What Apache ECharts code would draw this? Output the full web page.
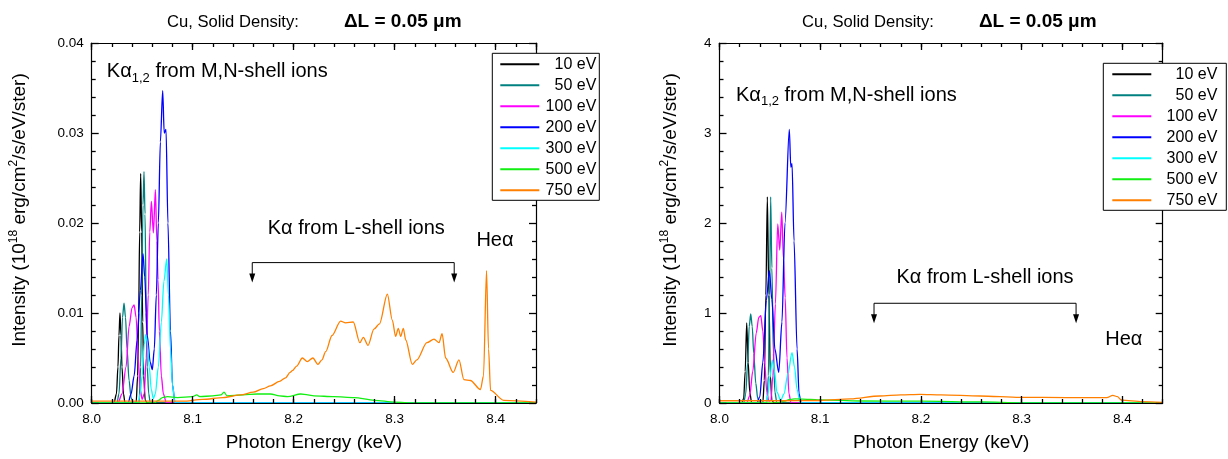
<!DOCTYPE html>
<html>
<head>
<meta charset="utf-8">
<script src="https://cdn.jsdelivr.net/npm/echarts@6/dist/echarts.min.js"></script>
<style>
  html, body { margin: 0; padding: 0; background: #fff; }
  #chart { width: 1228px; height: 459px; }
</style>
</head>
<body>
<div id="chart"></div>
<script>
// ---- Spectra: [photon energy (keV), intensity] ----
const seriesNames = ['10 eV', '50 eV', '100 eV', '200 eV', '300 eV', '500 eV', '750 eV'];

// Left panel (intensity scale 0 - 0.04)
const panelA_10eV = [[8.000,0],[8.022,0],[8.0245,0.001],[8.026,0.004],[8.027,0.0075],[8.028,0.0100],[8.029,0.0075],[8.030,0.004],[8.0315,0.001],[8.033,0],[8.044,0],[8.0455,0.003],[8.0465,0.010],[8.0475,0.019],[8.0485,0.0255],[8.0495,0.019],[8.0505,0.009],[8.0515,0.003],[8.053,0.0003],[8.055,0],[8.440,0]];
const panelA_50eV = [[8.000,0],[8.025,0],[8.027,0.001],[8.029,0.005],[8.0305,0.0095],[8.032,0.0111],[8.0335,0.0095],[8.035,0.006],[8.037,0.0025],[8.039,0.0006],[8.041,0.0001],[8.047,0],[8.0485,0.004],[8.0495,0.012],[8.0508,0.022],[8.0518,0.0257],[8.0528,0.021],[8.054,0.010],[8.055,0.004],[8.0565,0.001],[8.058,0],[8.440,0]];
const panelA_100eV = [[8.000,0],[8.026,0],[8.030,0.001],[8.034,0.004],[8.037,0.0085],[8.040,0.0106],[8.042,0.0109],[8.044,0.0095],[8.046,0.005],[8.048,0.0015],[8.050,0.0004],[8.052,0.001],[8.054,0.005],[8.056,0.012],[8.0575,0.019],[8.0591,0.0224],[8.0611,0.0189],[8.0631,0.0237],[8.0645,0.018],[8.0657,0.0137],[8.067,0.008],[8.069,0.003],[8.071,0.001],[8.074,0],[8.440,0]];
const panelA_200eV = [[8.000,0],[8.036,0],[8.039,0.001],[8.042,0.003],[8.045,0.007],[8.0482,0.0125],[8.0508,0.0166],[8.0525,0.014],[8.055,0.0075],[8.058,0.0045],[8.060,0.0037],[8.062,0.006],[8.064,0.012],[8.066,0.020],[8.068,0.029],[8.0703,0.0347],[8.0718,0.030],[8.0736,0.0304],[8.0755,0.020],[8.078,0.008],[8.080,0.002],[8.0825,0],[8.440,0]];
const panelA_300eV = [[8.000,0],[8.046,0],[8.048,0.001],[8.050,0.003],[8.052,0.0065],[8.0535,0.0076],[8.055,0.0068],[8.057,0.004],[8.059,0.0015],[8.061,0.0005],[8.063,0.001],[8.066,0.004],[8.069,0.009],[8.0715,0.0135],[8.0743,0.0160],[8.076,0.012],[8.078,0.006],[8.080,0.002],[8.0825,0],[8.440,0]];
const panelA_500eV = [[8.000,0],[8.062,0],[8.066,0.0003],[8.070,0.0006],[8.075,0.0007],[8.085,0.0006],[8.100,0.0007],[8.104,0.0009],[8.107,0.0007],[8.120,0.0008],[8.128,0.0009],[8.131,0.0012],[8.134,0.0008],[8.150,0.0009],[8.164,0.0010],[8.177,0.0010],[8.186,0.0008],[8.194,0.0007],[8.207,0.0010],[8.214,0.0009],[8.220,0.0008],[8.240,0.0007],[8.260,0.0006],[8.280,0.0003],[8.300,0.0001],[8.320,0],[8.440,0]];
const panelA_750eV = [[8.000,0.0002],[8.060,0.0002],[8.090,0.0002],[8.110,0.0004],[8.130,0.0006],[8.1475,0.0009],[8.160,0.0012],[8.170,0.0016],[8.177,0.0019],[8.186,0.0024],[8.192,0.0028],[8.1965,0.0034],[8.1987,0.0036],[8.203,0.0041],[8.2086,0.0050],[8.2135,0.0046],[8.219,0.0050],[8.224,0.0043],[8.228,0.0048],[8.2317,0.0057],[8.238,0.0075],[8.2465,0.0091],[8.2515,0.0089],[8.259,0.0090],[8.2656,0.0067],[8.269,0.0073],[8.2736,0.0064],[8.2795,0.0082],[8.285,0.0088],[8.2928,0.0121],[8.2977,0.0092],[8.301,0.0074],[8.3036,0.0083],[8.306,0.0074],[8.3086,0.0083],[8.311,0.0070],[8.3175,0.0043],[8.322,0.0048],[8.332,0.0067],[8.339,0.0071],[8.344,0.0067],[8.347,0.0077],[8.3505,0.0050],[8.358,0.0034],[8.3637,0.0048],[8.3686,0.0026],[8.375,0.0025],[8.385,0.0015],[8.388,0.0030],[8.391,0.0147],[8.393,0.0060],[8.395,0.0014],[8.408,0.0003],[8.440,0.0001]];

// Right panel (intensity scale 0 - 4)
const panelB_10eV = [[8.000,0],[8.022,0],[8.024,0.05],[8.0255,0.35],[8.027,0.89],[8.0285,0.45],[8.030,0.12],[8.032,0],[8.043,0],[8.0445,0.25],[8.046,1.2],[8.0475,2.29],[8.049,1.2],[8.0505,0.3],[8.052,0.03],[8.054,0],[8.440,0]];
const panelB_50eV = [[8.000,0],[8.024,0],[8.026,0.1],[8.028,0.45],[8.0295,0.85],[8.031,0.99],[8.0325,0.85],[8.034,0.55],[8.036,0.22],[8.038,0.05],[8.040,0],[8.047,0],[8.0485,0.3],[8.0497,1.2],[8.0508,2.29],[8.052,1.5],[8.0535,0.55],[8.055,0.12],[8.057,0],[8.440,0]];
const panelB_100eV = [[8.000,0],[8.027,0],[8.030,0.08],[8.033,0.35],[8.0365,0.78],[8.039,0.95],[8.041,0.97],[8.043,0.80],[8.045,0.42],[8.047,0.12],[8.049,0.02],[8.051,0.03],[8.053,0.3],[8.0555,1.1],[8.0578,1.99],[8.0598,1.70],[8.0618,2.12],[8.0635,1.6],[8.0652,1.17],[8.067,0.5],[8.069,0.1],[8.071,0],[8.440,0]];
const panelB_200eV = [[8.000,0],[8.037,0],[8.040,0.07],[8.043,0.45],[8.0465,1.14],[8.0495,1.47],[8.052,1.15],[8.055,0.6],[8.0588,0.34],[8.062,0.9],[8.065,2.0],[8.0693,3.04],[8.0708,2.62],[8.072,2.66],[8.074,1.8],[8.077,0.6],[8.079,0.1],[8.081,0],[8.440,0]];
const panelB_300eV = [[8.000,0],[8.046,0],[8.048,0.08],[8.050,0.28],[8.0524,0.48],[8.0545,0.36],[8.057,0.12],[8.0608,0.03],[8.064,0.1],[8.068,0.33],[8.072,0.56],[8.0745,0.4],[8.077,0.15],[8.080,0.01],[8.082,0],[8.440,0]];
const panelB_500eV = [[8.000,0],[8.058,0],[8.064,0.02],[8.070,0.04],[8.075,0.045],[8.090,0.04],[8.100,0.035],[8.140,0.022],[8.200,0.02],[8.260,0.012],[8.300,0.002],[8.320,0],[8.440,0]];
const panelB_750eV = [[8.000,0.025],[8.060,0.025],[8.100,0.028],[8.130,0.045],[8.159,0.078],[8.180,0.09],[8.199,0.096],[8.220,0.09],[8.2587,0.078],[8.2985,0.063],[8.345,0.06],[8.3845,0.06],[8.3905,0.085],[8.395,0.07],[8.399,0.033],[8.420,0.015],[8.440,0.007]];

const panelA = [panelA_10eV, panelA_50eV, panelA_100eV, panelA_200eV, panelA_300eV, panelA_500eV, panelA_750eV];
const panelB = [panelB_10eV, panelB_50eV, panelB_100eV, panelB_200eV, panelB_300eV, panelB_500eV, panelB_750eV];

// Axis ranges
const energyRange = [8.0, 8.44];
const intensityRangeA = [0, 0.04];
const intensityRangeB = [0, 4];

// ---- Styling ----
const FONT = '"Liberation Sans", Arial, Helvetica, sans-serif';
const colors = ['#000000', '#008080', '#ff00ff', '#0000ff', '#00ffff', '#11ee11', '#ff8000'];
const BLACK = '#000';
const TICK = { color: BLACK, width: 1.3 };

const grids = [
  { left: 91.7, top: 43, width: 444.3, height: 360 },
  { left: 719.5, top: 43, width: 443.2, height: 360 }
];

const chart = echarts.init(document.getElementById('chart'), null, { renderer: 'canvas' });

function mainXAxes(g) {
  const common = {
    gridIndex: g, type: 'value', min: energyRange[0], max: energyRange[1], interval: 0.1,
    axisLine: { show: true, onZero: false, lineStyle: { color: BLACK, width: 1.2 } },
    axisTick: { show: true, inside: true, length: 7, lineStyle: TICK },
    splitLine: { show: false }, z: 5
  };
  return [
    Object.assign({}, common, {
      position: 'bottom',
      axisLabel: { show: true, color: BLACK, fontFamily: FONT, fontSize: 13.5, margin: 9, showMaxLabel: false,
        formatter: v => v.toFixed(1) },
      name: 'Photon Energy (keV)', nameLocation: 'middle', nameGap: 30,
      nameTextStyle: { color: BLACK, fontFamily: FONT, fontSize: 19 }
    }),
    Object.assign({}, common, { position: 'top', axisLabel: { show: false } })
  ];
}

function minorXAxes(g) {
  const common = {
    gridIndex: g, type: 'value', min: energyRange[0], max: energyRange[1], interval: 0.02,
    axisLine: { show: false, onZero: false },
    axisTick: { show: true, inside: true, length: 4, lineStyle: TICK },
    axisLabel: { show: false }, splitLine: { show: false }, z: 5
  };
  return [Object.assign({}, common, { position: 'bottom' }), Object.assign({}, common, { position: 'top' })];
}

const yName = 'Intensity (10{sup|18} erg/cm{sup|2}/s/eV/ster)';
function mainYAxes(g, range, digits, gap) {
  const common = {
    gridIndex: g, type: 'value', min: range[0], max: range[1], interval: (range[1] - range[0]) / 4,
    axisLine: { show: true, onZero: false, lineStyle: { color: BLACK, width: 1.2 } },
    axisTick: { show: true, inside: true, length: 7, lineStyle: TICK },
    minorTick: { show: true, splitNumber: 5, length: 4, lineStyle: TICK },
    splitLine: { show: false }, z: 5
  };
  return [
    Object.assign({}, common, {
      position: 'left',
      axisLabel: { show: true, color: BLACK, fontFamily: FONT, fontSize: 13.5, margin: 8,
        formatter: v => v.toFixed(digits) },
      name: yName, nameLocation: 'middle', nameGap: gap,
      nameTextStyle: { color: BLACK, fontFamily: FONT, fontSize: 19, lineHeight: 24, padding: [0, 0, 0, 26],
        rich: { sup: { fontFamily: FONT, fontSize: 12, lineHeight: 12, verticalAlign: 'top', color: BLACK } } }
    }),
    Object.assign({}, common, { position: 'right', axisLabel: { show: false } })
  ];
}

const xAxes = [].concat(mainXAxes(0), mainXAxes(1), minorXAxes(2), minorXAxes(3));
const yAxes = [].concat(
  mainYAxes(0, intensityRangeA, 2, 60),
  mainYAxes(1, intensityRangeB, 0, 37),
  [{ gridIndex: 2, type: 'value', min: 0, max: 1, show: false },
   { gridIndex: 3, type: 'value', min: 0, max: 1, show: false }]
);

function buildSeries(panel, axisIdx) {
  return panel.map((data, i) => ({
    name: seriesNames[i], type: 'line', data: data,
    xAxisIndex: axisIdx, yAxisIndex: axisIdx,
    showSymbol: false, smooth: 0.3, smoothMonotone: 'x',
    lineStyle: { color: colors[i], width: 1.3 }, itemStyle: { color: colors[i] },
    emphasis: { disabled: true }, animation: false, z: 2
  }));
}

function buildLegend(left, top, textWidth, padding) {
  return {
    data: seriesNames, orient: 'vertical', left: left, top: top,
    backgroundColor: '#fff', borderColor: BLACK, borderWidth: 1, borderRadius: 0,
    padding: padding, itemGap: 5, itemWidth: 39, itemHeight: 2, icon: 'rect',
    selectedMode: false, z: 10,
    formatter: name => '{t|' + name + '}',
    textStyle: { color: BLACK, fontFamily: FONT, fontSize: 16,
      rich: { t: { width: textWidth, align: 'right', fontFamily: FONT, fontSize: 16, lineHeight: 16, color: BLACK } } }
  };
}

const titleText = '{a|Cu, Solid Density:}{g|}{b|\u0394L = 0.05 \u03bcm}';
function buildTitle(left) {
  return {
    text: titleText, left: left, top: 6,
    textStyle: { fontFamily: FONT, fontSize: 17, fontWeight: 'normal', color: BLACK,
      rich: { a: { fontFamily: FONT, fontSize: 16.6, color: BLACK, lineHeight: 22 },
              g: { width: 45 },
              b: { fontFamily: FONT, fontSize: 19, fontWeight: 'bold', color: BLACK, lineHeight: 22 } } }
  };
}

const option = {
  animation: false,
  backgroundColor: '#fff',
  title: [buildTitle(162), buildTitle(797)],
  legend: [buildLegend(492.3, 53.3, 52, [3, 3, 2, 8]), buildLegend(1103.3, 63.3, 61, [3, 9, 2, 9])],
  grid: [grids[0], grids[1], grids[0], grids[1]],
  xAxis: xAxes,
  yAxis: yAxes,
  series: [].concat(buildSeries(panelA, 0), buildSeries(panelB, 2))
};
chart.setOption(option);

// ---- Annotations, placed in data coordinates ----
const annotations = [
  { axis: 0, mn: [8.015, 0.0368], lshell: [8.262, 0.0194], bracket: [8.159, 8.359, 0.0156, 0.0134], hea: [8.381, 0.0181] },
  { axis: 2, mn: [8.0164, 3.42], lshell: [8.2636, 1.397], bracket: [8.1534, 8.354, 1.108, 0.886], hea: [8.383, 0.708] }
];

function toPx(axis, pt) {
  return chart.convertToPixel({ xAxisIndex: axis, yAxisIndex: axis }, pt);
}

const textBase = { fill: BLACK, fontFamily: FONT, fontSize: 20, verticalAlign: 'middle' };
const graphics = [];
annotations.forEach(a => {
  const mn = toPx(a.axis, a.mn);
  graphics.push({
    type: 'text', x: mn[0], y: mn[1], z: 20,
    style: Object.assign({}, textBase, {
      text: 'K\u03b1{s|1,2} from M,N-shell ions', align: 'left', lineHeight: 26,
      rich: { s: { fontFamily: FONT, fontSize: 13, lineHeight: 13, verticalAlign: 'bottom', fill: BLACK } }
    })
  });
  const ls = toPx(a.axis, a.lshell);
  graphics.push({ type: 'text', x: ls[0], y: ls[1], z: 20,
    style: Object.assign({}, textBase, { text: 'K\u03b1 from L-shell ions', align: 'center' }) });
  const he = toPx(a.axis, a.hea);
  graphics.push({ type: 'text', x: he[0], y: he[1], z: 20,
    style: Object.assign({}, textBase, { text: 'He\u03b1', align: 'left' }) });

  const [x1, x2, yLine, yTip] = a.bracket;
  const p1 = toPx(a.axis, [x1, yTip]);
  const p2 = toPx(a.axis, [x1, yLine]);
  const p3 = toPx(a.axis, [x2, yLine]);
  const p4 = toPx(a.axis, [x2, yTip]);
  graphics.push({ type: 'polyline', z: 20,
    shape: { points: [[p1[0], p1[1] - 6], p2, p3, [p4[0], p4[1] - 6]] },
    style: { stroke: BLACK, lineWidth: 1, fill: null } });
  [p1, p4].forEach(p => {
    graphics.push({ type: 'polygon', z: 20,
      shape: { points: [[p[0] - 3, p[1] - 9], [p[0] + 3, p[1] - 9], [p[0], p[1]]] },
      style: { fill: BLACK, stroke: null } });
  });
});
chart.setOption({ graphic: graphics });
</script>
</body>
</html>
